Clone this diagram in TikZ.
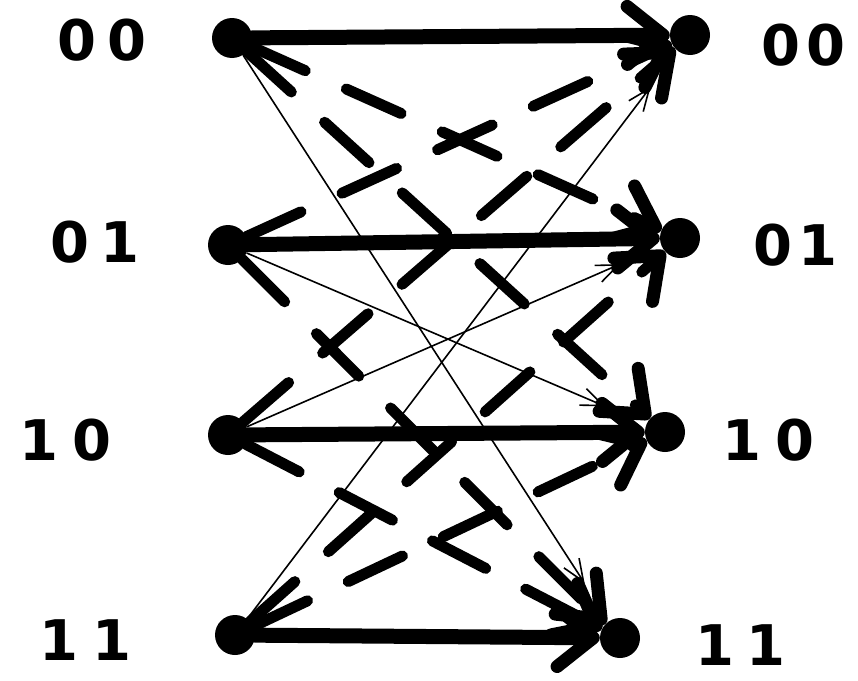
\documentclass[tikz,border=0pt]{standalone}
\usepackage{fontspec}
\setmainfont{DejaVu Sans}
\usetikzlibrary{arrows.meta, backgrounds}

\begin{document}
\begin{tikzpicture}[x=1pt, y=-1pt,
    dot/.style={circle, fill=black, inner sep=0pt, minimum size=40pt},
    statelabel/.style={font=\fontsize{56}{56}\selectfont\bfseries},
    trans/.style={line width=15pt, line cap=round,
                  -{Straight Barb[round, length=36pt, width=58pt, line width=13pt]}},
    dashtrans/.style={trans, line width=11pt, dash pattern=on 60pt off 45pt},
    thintrans/.style={line width=1.6pt, shorten >=45pt,
                      -{Straight Barb[length=22pt, width=18pt, line width=1.6pt]}}]
  \useasboundingbox (0,0) rectangle (858,680);
  % states at time k
  \node[dot] (l00) at (232,38) {};
  \node[dot] (l01) at (228,245) {};
  \node[dot] (l10) at (228,435) {};
  \node[dot] (l11) at (235,635) {};
  % states at time k+1
  \node[dot] (r00) at (690,35) {};
  \node[dot] (r01) at (680,238) {};
  \node[dot] (r10) at (665,432) {};
  \node[dot] (r11) at (620,638) {};
  % labels
  \node[statelabel] (tl00) at (102,40) {0\kern12pt0};
  \node[statelabel] (tl01) at (95,242) {0\kern12pt1};
  \node[statelabel] (tl10) at (65,440) {1\kern14pt0};
  \node[statelabel] (tl11) at (85,640) {1\kern14pt1};
  \node[statelabel] (tr00) at (803,45) {0\kern6pt0};
  \node[statelabel] (tr01) at (795,245) {0\kern6pt1};
  \node[statelabel] (tr10) at (768,440) {1\kern14pt0};
  \node[statelabel] (tr11) at (740,645) {1\kern12pt1};
  % transitions
  \begin{scope}[on background layer]
    \foreach \s in {00,01,10,11}
      \draw[trans] (l\s) -- (r\s);
    \foreach \a/\b in {00/11,01/10,10/01,11/00}
      \draw[thintrans] (l\a) -- (r\b);
    \foreach \a/\b in {00/01,00/10,01/00,01/11,10/00,10/11,11/01,11/10}
      \draw[dashtrans] (l\a) -- (r\b);
  \end{scope}
\end{tikzpicture}
\end{document}
